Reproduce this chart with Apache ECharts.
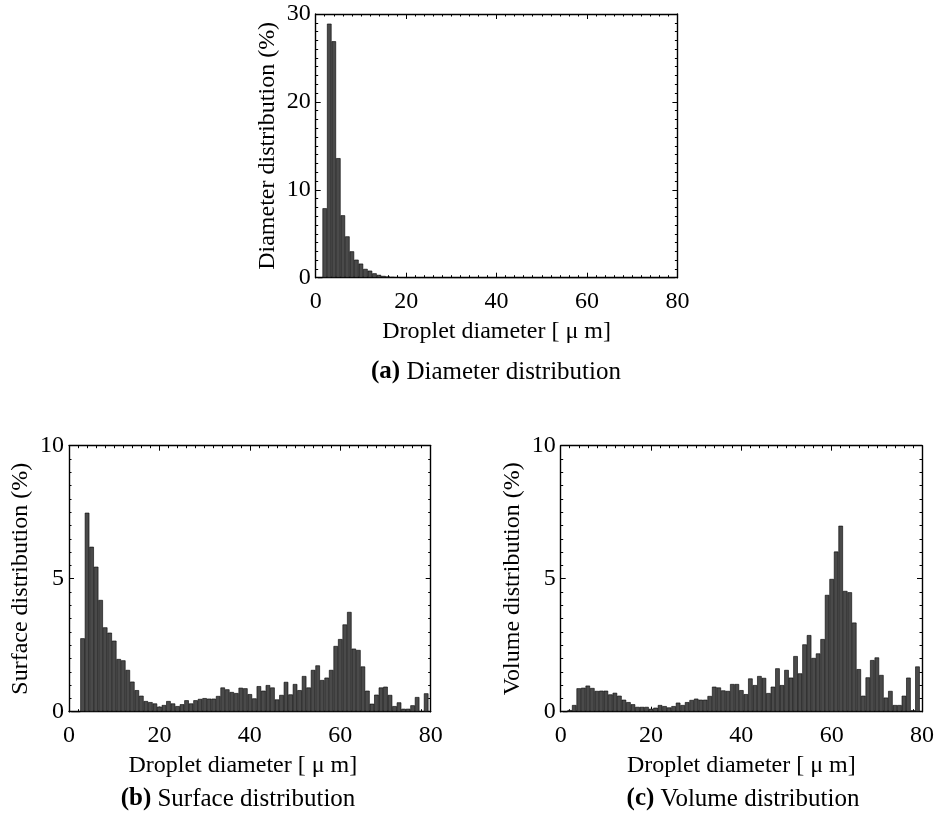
<!DOCTYPE html>
<html><head><meta charset="utf-8">
<script src="https://cdn.jsdelivr.net/npm/echarts@6/dist/echarts.min.js"></script>
<style>html,body{margin:0;padding:0;background:#fff}#c{width:937px;height:823px}</style>
</head><body><div id="c"></div>
<script>
// ---- data ----
const diameters = [1,2,3,4,5,6,7,8,9,10,11,12,13,14,15,16,17,18,19,20,
  21,22,23,24,25,26,27,28,29,30,31,32,33,34,35,36,37,38,39,40,
  41,42,43,44,45,46,47,48,49,50,51,52,53,54,55,56,57,58,59,60,
  61,62,63,64,65,66,67,68,69,70,71,72,73,74,75,76,77,78,79];
const diameterDist = [0,7.9,28.9,26.9,13.6,7.1,4.7,3.0,2.05,1.6,1.0,0.8,0.5,0.32,0.2,0.13,0.08,0.05,0.03,0.02,
  0.02,0.02,0.015,0.015,0.01,0.01,0.01,0.01,0.01,0.01,0.008,0.008,0.008,0.01,0.01,0.008,0.008,0.008,0.008,0.006,
  0.005,0.006,0.005,0.005,0.005,0.003,0.003,0.004,0.003,0.003,0.003,0.003,0.003,0.003,0.003,0.002,0.002,0.002,0.003,0.003,
  0.003,0.003,0.002,0.002,0.001,0.001,0.001,0.001,0.001,0.001,0.001,0,0,0,0,0,0.001,0,0.001];
const surfaceDist = [0,0,2.76,7.48,6.20,5.45,4.20,3.17,2.97,2.67,1.98,1.93,1.57,1.13,0.81,0.60,0.40,0.36,0.31,0.19,
  0.25,0.40,0.31,0.21,0.28,0.43,0.31,0.43,0.48,0.51,0.49,0.49,0.59,0.91,0.84,0.74,0.70,0.90,0.88,0.66,
  0.50,0.96,0.79,1.00,0.91,0.46,0.63,1.12,0.65,1.04,0.81,1.34,0.91,1.57,1.74,1.19,1.28,1.57,2.47,2.73,
  3.28,3.75,2.37,2.32,1.70,0.79,0.30,0.64,0.91,0.94,0.63,0.21,0.35,0.11,0.11,0.24,0.55,0.02,0.69];
const volumeDist = [0,0.06,0.25,0.88,0.90,0.98,0.89,0.78,0.79,0.79,0.65,0.71,0.60,0.45,0.36,0.28,0.18,0.18,0.18,0.11,
  0.15,0.25,0.21,0.16,0.21,0.34,0.25,0.36,0.44,0.49,0.45,0.45,0.59,0.94,0.91,0.80,0.78,1.04,1.04,0.81,
  0.66,1.25,1.00,1.34,1.27,0.70,0.94,1.63,1.00,1.57,1.28,2.09,1.44,2.53,2.88,2.02,2.19,2.73,4.39,4.99,
  6.02,6.99,4.54,4.49,3.35,1.60,0.60,1.29,1.94,2.04,1.38,0.53,0.78,0.25,0.25,0.60,1.28,0.05,1.70];
const xTitle = 'Droplet diameter [ μ m]';
const yTitles = ['Diameter distribution (%)', 'Surface distribution (%)', 'Volume distribution (%)'];
const captionTags = ['(a)', '(b)', '(c)'];
const captionTexts = ['Diameter distribution', 'Surface distribution', 'Volume distribution'];
const yMaxes = [30, 10, 10];
const yIntervals = [10, 5, 5];
const seriesValues = [diameterDist, surfaceDist, volumeDist];

// ---- layout / style ----
const FONT = "'Liberation Serif','Times New Roman',serif";
const grids = [
  {left: 315.7, top: 14, width: 361.7, height: 263.7},
  {left: 69, top: 445.7, width: 361.7, height: 266},
  {left: 560.7, top: 445.7, width: 361.6, height: 266}
];
const xNamePad = [[0,0,0,0],[0,14,0,0],[0,0,0,0]];
const captionPos = [[496, 372], [238, 799], [743, 799]];

const lineS = {color: '#000', width: 1.4};
const txt = {fontFamily: FONT, fontSize: 24, color: '#000'};

const xAxes = [], yAxes = [], series = [], graphics = [];
grids.forEach((g, i) => {
  const base = {
    gridIndex: i, type: 'value', min: 0, max: 80, interval: 20,
    axisLine: {show: true, onZero: false, lineStyle: lineS},
    axisTick: {show: true, inside: true, length: 5, lineStyle: {color: '#000', width: 1}},
    minorTick: {show: true, splitNumber: 10, length: 2.5, lineStyle: {color: '#000', width: 1}},
    splitLine: {show: false}, minorSplitLine: {show: false}
  };
  xAxes.push(Object.assign({}, base, {
    position: 'bottom',
    axisLabel: Object.assign({margin: 12, showMinLabel: true, showMaxLabel: true}, txt),
    name: xTitle, nameLocation: 'middle', nameGap: 42,
    nameTextStyle: Object.assign({padding: xNamePad[i]}, txt)
  }));
  xAxes.push(Object.assign({}, base, {position: 'top', axisLabel: {show: false}}));
  const ybase = {
    gridIndex: i, type: 'value', min: 0, max: yMaxes[i], interval: yIntervals[i],
    axisLine: {show: true, onZero: false, lineStyle: lineS},
    axisTick: {show: true, inside: true, length: 5, lineStyle: {color: '#000', width: 1}},
    minorTick: {show: true, splitNumber: 10, length: 2.5, lineStyle: {color: '#000', width: 1}},
    splitLine: {show: false}, minorSplitLine: {show: false}
  };
  yAxes.push(Object.assign({}, ybase, {
    position: 'left',
    axisLabel: Object.assign({margin: 5, showMinLabel: true, showMaxLabel: true}, txt),
    name: yTitles[i], nameLocation: 'middle', nameGap: 36,
    nameTextStyle: txt
  }));
  yAxes.push(Object.assign({}, ybase, {position: 'right', axisLabel: {show: false}}));
  series.push({
    type: 'bar', xAxisIndex: 2 * i, yAxisIndex: 2 * i,
    data: diameters.map((d, k) => [d, seriesValues[i][k]]),
    barWidth: g.width / 80,
    itemStyle: {color: '#4a4a4a', borderColor: '#000', borderWidth: 0.6},
    clip: true
  });
  graphics.push({
    type: 'text', x: captionPos[i][0], y: captionPos[i][1],
    style: {
      text: '{b|' + captionTags[i] + '} ' + captionTexts[i],
      fontFamily: FONT, fontSize: 25, fill: '#000',
      align: 'center', verticalAlign: 'middle',
      rich: {b: {fontFamily: FONT, fontSize: 25, fontWeight: 'bold', fill: '#000'}}
    }
  });
});

const chart = echarts.init(document.getElementById('c'), null, {renderer: 'canvas'});
chart.setOption({
  animation: false,
  backgroundColor: '#fff',
  grid: grids.map(g => Object.assign({containLabel: false}, g)),
  xAxis: xAxes,
  yAxis: yAxes,
  series: series,
  graphic: graphics
});
</script></body></html>
